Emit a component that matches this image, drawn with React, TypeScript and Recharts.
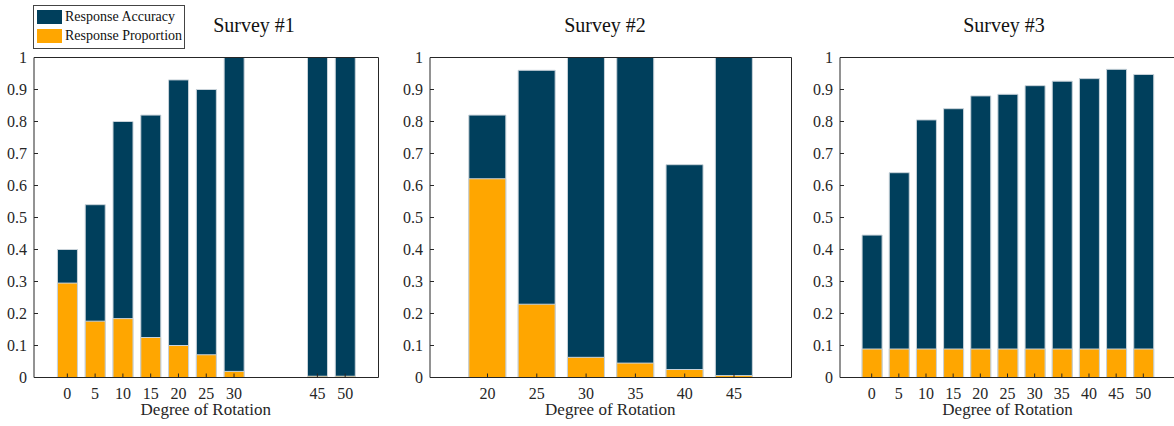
import React from 'react';
import { BarChart, Bar, XAxis, YAxis } from 'recharts';

// Colours
const ACC_COLOR = '#003f5c';
const PROP_COLOR = '#ffa600';
const EDGE_COLOR = '#c9d3da';
const AXIS_COLOR = '#262626';
const FONT = '"Liberation Serif", "Times New Roman", serif';

// Survey #1
const s1Degrees = [0, 5, 10, 15, 20, 25, 30, 45, 50];
const s1Accuracy = [0.4, 0.54, 0.8, 0.82, 0.93, 0.9, 1.0, 1.0, 1.0];
const s1Proportion = [0.295, 0.176, 0.184, 0.125, 0.1, 0.071, 0.019, 0.004, 0.004];

// Survey #2
const s2Degrees = [20, 25, 30, 35, 40, 45];
const s2Accuracy = [0.82, 0.96, 1.0, 1.0, 0.665, 1.0];
const s2Proportion = [0.621, 0.229, 0.063, 0.045, 0.025, 0.006];

// Survey #3
const s3Degrees = [0, 5, 10, 15, 20, 25, 30, 35, 40, 45, 50];
const s3Accuracy = [0.445, 0.64, 0.805, 0.84, 0.88, 0.885, 0.912, 0.926, 0.934, 0.963, 0.947];
const s3Proportion = [0.089, 0.089, 0.089, 0.089, 0.089, 0.089, 0.089, 0.089, 0.089, 0.089, 0.089];

const yTicks = [0, 0.1, 0.2, 0.3, 0.4, 0.5, 0.6, 0.7, 0.8, 0.9, 1];

const PLOT_TOP = 57.5;
const PLOT_BOTTOM = 377.5;
const HEIGHT = 426;

const XTick = ({ x, y, payload }: any) => (
  <text x={x} y={y} dy="0.71em" textAnchor="middle" fill={AXIS_COLOR} style={{ fontFamily: FONT, fontSize: 16 }}>
    {payload.value}
  </text>
);

const YTick = ({ x, y, payload }: any) => (
  <text x={x} y={y} dy="0.35em" textAnchor="end" fill={AXIS_COLOR} style={{ fontFamily: FONT, fontSize: 16 }}>
    {payload.value}
  </text>
);

interface PanelProps {
  title: string;
  degrees: number[];
  accuracy: number[];
  proportion: number[];
  domain: [number, number];
  plotLeft: number;
  plotRight: number;
  barSize: number;
  titleX: number;
}

const Panel: React.FC<PanelProps> = ({
  title, degrees, accuracy, proportion, domain, plotLeft, plotRight, barSize, titleX,
}) => {
  const rows = degrees.map((d, i) => ({ deg: d, accuracy: accuracy[i], proportion: proportion[i] }));
  const yAxisWidth = 30;
  const divLeft = plotLeft - yAxisWidth - 4;
  const width = plotRight + 1 + 2 - divLeft;
  const center = (plotLeft + Math.min(plotRight, 1174 + (plotRight - 1174))) / 2;

  return (
    <>
      <div
        style={{
          position: 'absolute', left: titleX - 60, width: 120, top: 13, textAlign: 'center',
          fontFamily: FONT, fontSize: 20, color: '#111', lineHeight: '24px',
        }}
      >
        {title}
      </div>
      <div style={{ position: 'absolute', left: divLeft, top: 0 }}>
        <BarChart
          width={width}
          height={HEIGHT}
          data={rows}
          barSize={barSize}
          barGap={-barSize}
          margin={{ top: PLOT_TOP - 1, right: 2, bottom: 0, left: 4 }}
        >
          <XAxis
            dataKey="deg"
            type="number"
            domain={domain}
            allowDataOverflow
            ticks={degrees}
            interval={0}
            height={HEIGHT - PLOT_BOTTOM}
            tickSize={-4}
            tickMargin={14}
            stroke={AXIS_COLOR}
            tick={<XTick />}
          />
          <XAxis
            xAxisId="top"
            orientation="top"
            dataKey="deg"
            type="number"
            domain={domain}
            allowDataOverflow
            ticks={degrees}
            interval={0}
            height={1}
            tickSize={-4}
            tick={false}
            stroke={AXIS_COLOR}
          />
          <YAxis
            type="number"
            domain={[0, 1]}
            ticks={yTicks}
            interval={0}
            width={yAxisWidth}
            tickSize={-4}
            tickMargin={11}
            stroke={AXIS_COLOR}
            tick={<YTick />}
          />
          <YAxis
            yAxisId="right"
            orientation="right"
            type="number"
            domain={[0, 1]}
            ticks={yTicks}
            interval={0}
            width={1}
            tickSize={-4}
            tick={false}
            stroke={AXIS_COLOR}
          />
          <Bar dataKey="accuracy" name="Response Accuracy" fill={ACC_COLOR} stroke={EDGE_COLOR} strokeWidth={1} isAnimationActive={false} />
          <Bar dataKey="proportion" name="Response Proportion" fill={PROP_COLOR} stroke={EDGE_COLOR} strokeWidth={1} isAnimationActive={false} />
        </BarChart>
      </div>
      <div
        style={{
          position: 'absolute', left: center - 100, width: 200, top: 399, textAlign: 'center',
          fontFamily: FONT, fontSize: 17, color: AXIS_COLOR, lineHeight: '22px',
        }}
      >
        Degree of Rotation
      </div>
    </>
  );
};

const LegendBox = () => (
  <div
    style={{
      position: 'absolute', left: 33, top: 5, width: 150, height: 42, border: '1px solid #444',
      background: '#fff', fontFamily: FONT, fontSize: 14, color: '#111',
    }}
  >
    {[
      { label: 'Response Accuracy', color: ACC_COLOR, top: 4 },
      { label: 'Response Proportion', color: PROP_COLOR, top: 23 },
    ].map((item) => (
      <div key={item.label} style={{ position: 'absolute', left: 3, top: item.top, display: 'flex', alignItems: 'center' }}>
        <div style={{ width: 25, height: 14, background: item.color }} />
        <span style={{ marginLeft: 3, lineHeight: '14px', whiteSpace: 'nowrap' }}>{item.label}</span>
      </div>
    ))}
  </div>
);

export default function App() {
  return (
    <div
      style={{
        position: 'absolute', left: 0, top: 0, width: 1174, height: HEIGHT,
        overflow: 'hidden', background: '#fff', fontFamily: FONT,
      }}
    >
      <Panel
        title="Survey #1"
        degrees={s1Degrees}
        accuracy={s1Accuracy}
        proportion={s1Proportion}
        domain={[-6, 56]}
        plotLeft={33.5}
        plotRight={378}
        barSize={20}
        titleX={254}
      />
      <Panel
        title="Survey #2"
        degrees={s2Degrees}
        accuracy={s2Accuracy}
        proportion={s2Proportion}
        domain={[14.17, 50.83]}
        plotLeft={429.5}
        plotRight={791}
        barSize={37}
        titleX={605}
      />
      <Panel
        title="Survey #3"
        degrees={s3Degrees}
        accuracy={s3Accuracy}
        proportion={s3Proportion}
        domain={[-5.83, 55.83]}
        plotLeft={840}
        plotRight={1175}
        barSize={20}
        titleX={1004}
      />
      <LegendBox />
    </div>
  );
}
